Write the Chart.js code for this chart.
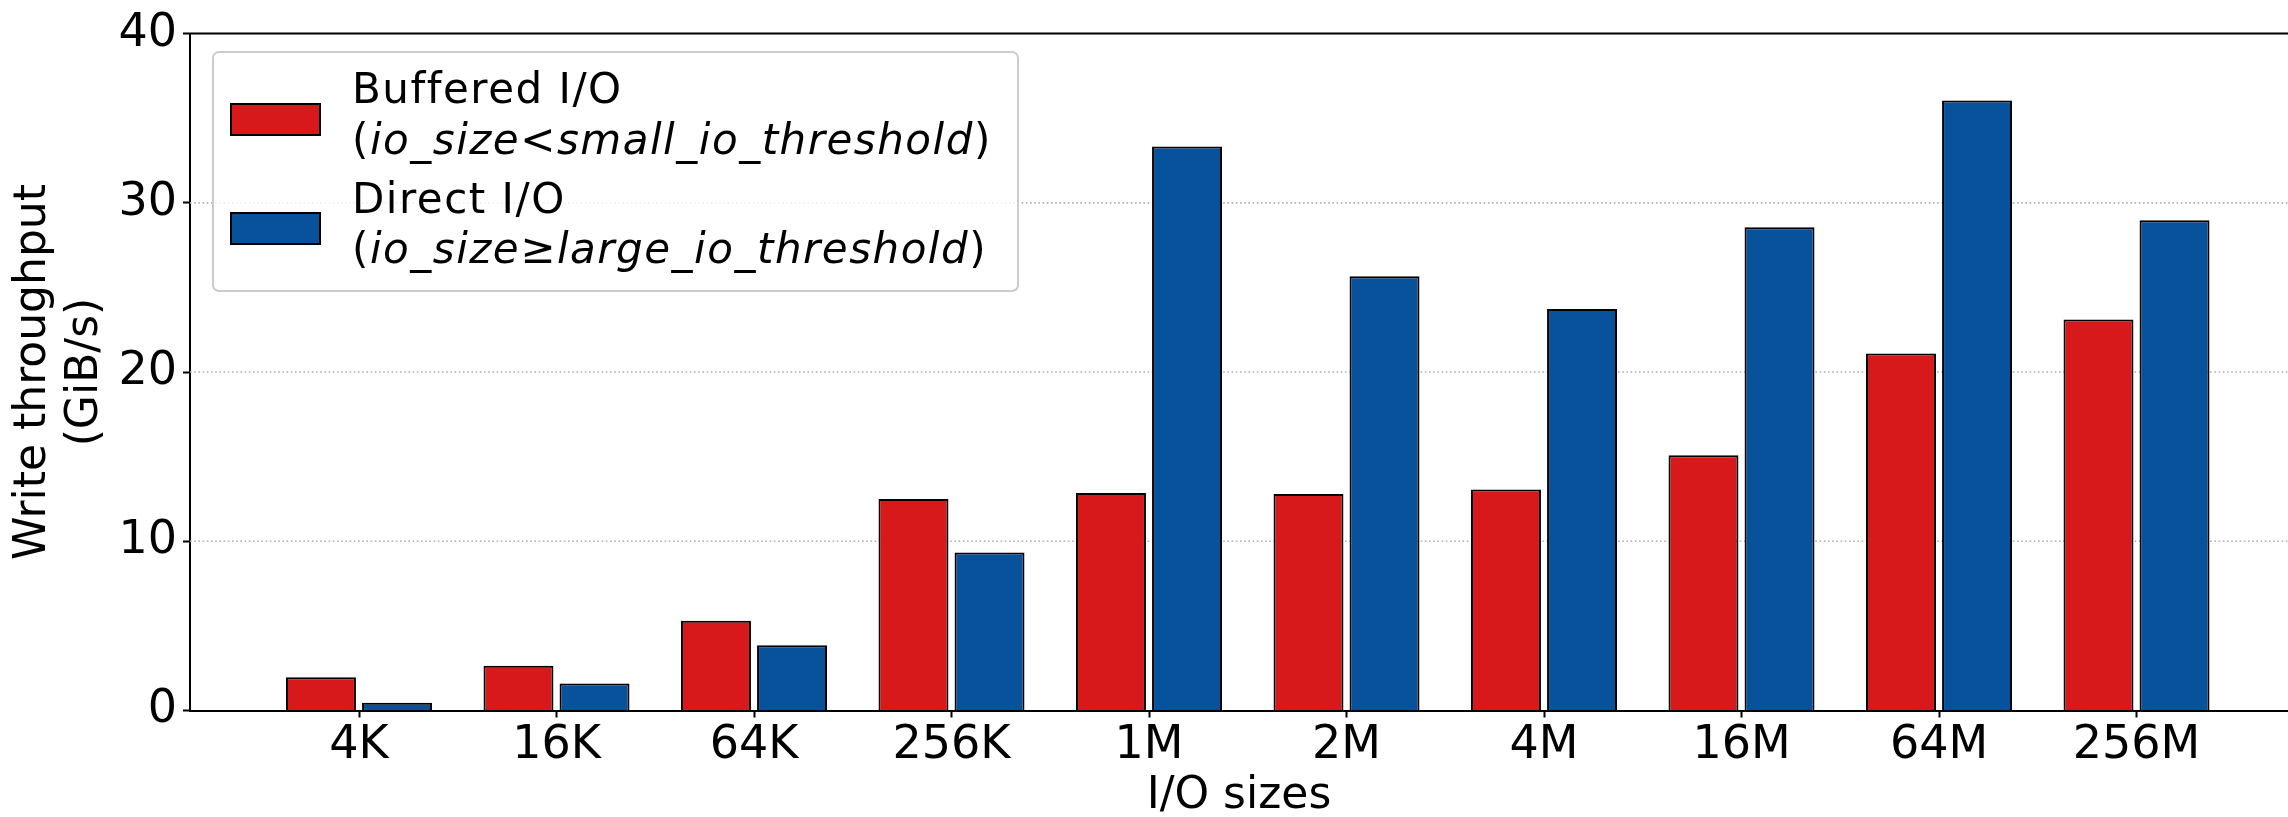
<!DOCTYPE html>
<html>
<head>
<meta charset="utf-8">
<script src="https://cdn.jsdelivr.net/npm/chart.js@4.4.1/dist/chart.umd.min.js"></script>
<style>
  html, body { margin: 0; padding: 0; background: #ffffff; overflow: hidden; }
  #wrap { position: relative; width: 2288px; height: 817px; }
  #c { display: block; }
  #legend { position: absolute; left: 212px; top: 51px; width: 807px; height: 241px; box-sizing: border-box;
            border: 2px solid #cccccc; border-radius: 7px; background: rgba(255,255,255,0.8); }
  .sw { position: absolute; box-sizing: border-box; border: 2px solid #000; width: 91px; height: 33px; }
  .lt { position: absolute; font-family: 'DejaVu Sans'; font-size: 42px; line-height: 42px; letter-spacing: 1.5px;
        white-space: nowrap; color: #000; }
  .lt i { font-style: italic; }
</style>
</head>
<body>
<div id="wrap">
  <canvas id="c" width="2288" height="817"></canvas>
  <div id="legend"></div>
</div>
<script>
// ---- data ----
const categories = ['4K', '16K', '64K', '256K', '1M', '2M', '4M', '16M', '64M', '256M'];
const buffered = [1.97, 2.65, 5.30, 12.50, 12.85, 12.80, 13.06, 15.09, 21.10, 23.11];
const direct = [0.46, 1.59, 3.85, 9.33, 33.33, 25.66, 23.72, 28.55, 36.04, 28.97];
const yTicks = [0, 10, 20, 30, 40];
const seriesNames = ['Buffered I/O', 'Direct I/O'];
const seriesConditions = [['io_size', '<', 'small_io_threshold'], ['io_size', '\u2265', 'large_io_threshold']];
const seriesColors = ['#d7191c', '#08529c'];
const xTitle = 'I/O sizes';
const yTitle = ['Write throughput', '(GiB/s)'];

Chart.defaults.font.family = "'DejaVu Sans'";
Chart.defaults.color = '#000000';

const frame = {
  id: 'frame',
  beforeDatasetsDraw(chart) {
    const { ctx, chartArea: a, scales: { y } } = chart;
    ctx.save();
    ctx.strokeStyle = '#b0b0b0';
    ctx.lineWidth = 1.6;
    ctx.setLineDash([1.6, 2.6]);
    y.ticks.forEach(t => {
      if (t.value <= y.min || t.value >= y.max) return;
      const py = y.getPixelForValue(t.value);
      ctx.beginPath();
      ctx.moveTo(a.left, py);
      ctx.lineTo(a.right, py);
      ctx.stroke();
    });
    ctx.restore();
  },
  afterDatasetsDraw(chart) {
    const { ctx, chartArea: a } = chart;
    ctx.save();
    ctx.strokeStyle = '#000000';
    ctx.lineWidth = 2;
    ctx.beginPath();
    ctx.moveTo(a.left - 1, a.top);
    ctx.lineTo(a.right, a.top);
    ctx.stroke();
    ctx.restore();
  }
};

const series = [buffered, direct];
const datasets = series.map((vals, s) => ({
  label: seriesNames[s] + ' (' + seriesConditions[s].join(' ') + ')',
  data: categories.map((c, i) => ({ x: i, y: vals[i] })),
  backgroundColor: seriesColors[s],
  borderColor: '#000000',
  borderWidth: 2,
  borderSkipped: 'start',
  categoryPercentage: 0.77,
  barPercentage: 0.92
}));

new Chart(document.getElementById('c'), {
  type: 'bar',
  data: { datasets },
  plugins: [frame],
  options: {
    responsive: false,
    devicePixelRatio: 1,
    animation: false,
    layout: { padding: { top: 29, left: 0, right: 0, bottom: 0 } },
    plugins: { legend: { display: false }, tooltip: { enabled: false } },
    scales: {
      x: {
        type: 'linear',
        offset: false,
        min: -0.8557,
        max: 9.767,
        afterBuildTicks: (scale) => { scale.ticks = categories.map((c, i) => ({ value: i })); },
        afterFit: (scale) => { scale.height = 106.5; },
        ticks: {
          callback: (v) => categories[v],
          autoSkip: false,
          maxRotation: 0,
          minRotation: 0,
          padding: 1,
          font: { size: 46 }
        },
        grid: { offset: false, drawOnChartArea: false, drawTicks: true, tickLength: 7, tickColor: '#000000', tickWidth: 2 },
        border: { display: true, color: '#000000', width: 2 },
        title: { display: true, text: xTitle, font: { size: 44, lineHeight: 0.93 }, padding: { top: 0, bottom: 0 } }
      },
      y: {
        min: 0,
        max: 40,
        afterBuildTicks: (scale) => { scale.ticks = yTicks.map(v => ({ value: v })); },
        afterFit: (scale) => { scale.width = 190; },
        ticks: { padding: 6, font: { size: 46 } },
        grid: { drawOnChartArea: false, drawTicks: true, tickLength: 7, tickColor: '#000000', tickWidth: 2 },
        border: { display: true, color: '#000000', width: 2 },
        title: { display: true, text: yTitle, font: { size: 44, lineHeight: 1.19 }, padding: { top: 7, bottom: 0 } }
      }
    }
  }
});

// ---- legend (HTML, mixed upright / italic text) ----
const legend = document.getElementById('legend');
const swatchTops = [50, 159.3];
const textTops = [[14.8, 65.5], [124.5, 174.5]];
seriesNames.forEach((name, s) => {
  const sw = document.createElement('div');
  sw.className = 'sw';
  sw.style.left = '15.7px';
  sw.style.top = swatchTops[s] + 'px';
  sw.style.background = seriesColors[s];
  legend.appendChild(sw);

  const l1 = document.createElement('div');
  l1.className = 'lt';
  l1.style.left = '138px';
  l1.style.top = textTops[s][0] + 'px';
  l1.textContent = name;
  legend.appendChild(l1);

  const l2 = document.createElement('div');
  l2.className = 'lt';
  l2.style.left = '138px';
  l2.style.top = textTops[s][1] + 'px';
  const cond = seriesConditions[s];
  l2.appendChild(document.createTextNode('('));
  const a = document.createElement('i'); a.textContent = cond[0]; l2.appendChild(a);
  l2.appendChild(document.createTextNode(cond[1]));
  const b = document.createElement('i'); b.textContent = cond[2]; l2.appendChild(b);
  l2.appendChild(document.createTextNode(')'));
  legend.appendChild(l2);
});
</script>
</body>
</html>
